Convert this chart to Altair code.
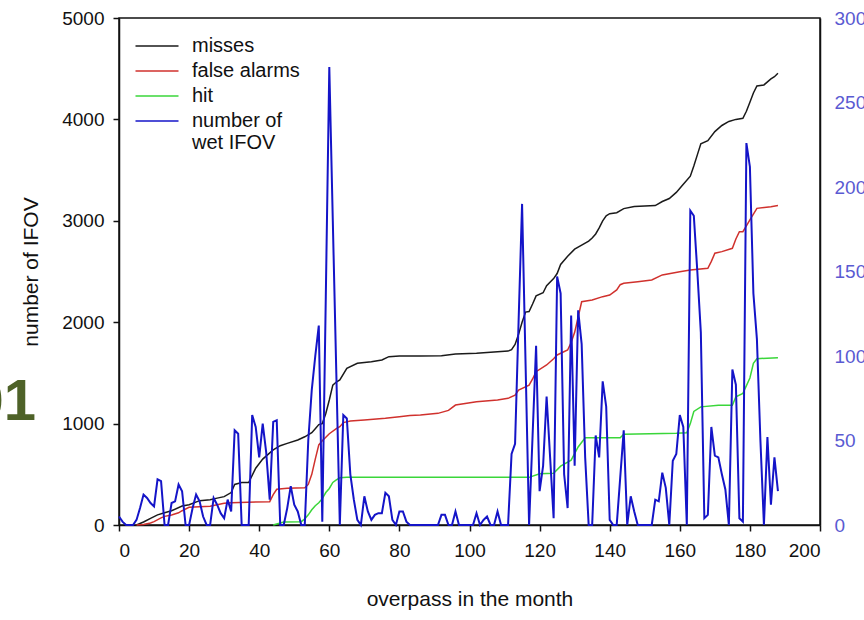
import altair as alt
import pandas as pd

# ---------------- data ----------------
series_names = ["misses", "false alarms", "hit", "number of wet IFOV"]
series_colors = ["#1a1a1a", "#d0312d", "#3ad63a", "#1414c8"]

miss_x = [5, 7, 9, 11, 13, 15, 18, 20, 23, 26, 28, 30, 32, 33, 35, 37, 39, 41, 44, 46, 48, 51, 53, 55, 56, 57, 58,
          59, 60, 61, 62, 63, 65, 68, 72, 75, 77, 80, 86, 92, 96, 102, 108, 111, 112, 113, 114, 115, 116, 117, 118,
          119, 121, 122, 124, 125, 126, 128, 130, 132, 134, 135, 136, 137, 138, 139, 140, 142, 144, 147, 153, 155,
          157, 159, 161, 163, 164, 165, 166, 168, 170, 172, 174, 176, 178, 179, 180, 181, 182, 184, 186, 187, 188]
miss_y = [0, 30, 66, 100, 120, 140, 187, 200, 240, 250, 265, 280, 320, 400, 418, 418, 560, 650, 740, 782, 805, 838,
          870, 910, 950, 990, 1000, 1100, 1233, 1380, 1410, 1430, 1545, 1595, 1611, 1627, 1660, 1667, 1667, 1670,
          1686, 1693, 1709, 1715, 1730, 1780, 1880, 2000, 2100, 2105, 2180, 2260, 2290, 2360, 2430, 2480, 2570,
          2650, 2720, 2760, 2800, 2830, 2870, 2930, 3000, 3050, 3070, 3080, 3120, 3140, 3150, 3190, 3220, 3280,
          3360, 3440, 3540, 3650, 3760, 3790, 3880, 3940, 3980, 4000, 4011, 4080, 4170, 4260, 4330, 4340, 4400,
          4421, 4455]

fa_x = [5, 7, 9, 10, 12, 13, 15, 17, 18, 20, 23, 26, 28, 30, 32, 43, 44, 45, 48, 53, 54, 55, 56, 57, 58, 60, 62,
        63, 64, 66, 70, 76, 80, 83, 86, 91, 94, 96, 102, 108, 111, 113, 114, 117, 118, 119, 122, 124, 125, 128,
        129, 130, 131, 132, 135, 138, 140, 142, 143, 144, 148, 152, 155, 160, 163, 168, 169, 170, 172, 175, 176,
        177, 178, 179, 180, 182, 186, 188]
fa_y = [0, 5, 20, 33, 70, 85, 99, 120, 141, 174, 181, 185, 200, 215, 220, 230, 300, 352, 362, 368, 400, 500, 650,
        790, 830, 900, 950, 970, 1010, 1025, 1035, 1052, 1068, 1080, 1085, 1101, 1130, 1183, 1216, 1233, 1249,
        1280, 1331, 1380, 1440, 1512, 1578, 1640, 1677, 1726, 1800, 1900, 2050, 2202, 2219, 2252, 2268, 2318,
        2370, 2384, 2400, 2416, 2466, 2498, 2515, 2531, 2600, 2680, 2696, 2729, 2820, 2893, 2893, 2950, 3008,
        3123, 3139, 3150]

hit_x = [44, 45, 47, 52, 53, 54, 55, 56, 57, 58, 59, 60, 61, 62, 63, 65, 111, 117, 120, 124, 126, 129, 131, 133,
         143, 144, 159, 162, 163, 164, 166, 171, 175, 176, 178, 180, 181, 182, 188]
hit_y = [0, 10, 30, 33, 60, 100, 150, 190, 220, 260, 320, 360, 420, 445, 465, 470, 470, 470, 505, 510, 580, 640,
         770, 860, 860, 895, 905, 910, 1000, 1120, 1165, 1180, 1180, 1265, 1298, 1450, 1594, 1640, 1650]

wet_values = [5, 2, 0, 0, 0, 3, 10, 18, 16, 13, 11, 27, 26, 0, 0, 13, 14, 24, 20, 0,
              0, 10, 18, 14, 5, 0, 0, 16, 12, 7, 4, 15, 8, 56, 54, 0, 0, 0, 65, 58,
              40, 60, 43, 15, 61, 62, 0, 0, 10, 23, 12, 8, 0, 0, 50, 80, 100, 118, 2, 135,
              271, 180, 90, 0, 65, 63, 30, 15, 3, 0, 17, 8, 3, 6, 7, 7, 19, 17, 3, 0,
              8, 8, 2, 0, 0, 0, 0, 0, 0, 0, 0, 0, 6, 6, 0, 0, 8, 0, 0, 0,
              0, 0, 7, 0, 3, 5, 0, 0, 8, 0, 0, 0, 42, 48, 120, 190, 95, 0, 53, 106,
              20, 35, 76, 40, 4, 147, 137, 30, 10, 124, 35, 127, 107, 40, 0, 0, 53, 40, 85, 70,
              3, 0, 0, 28, 56, 0, 17, 8, 0, 0, 0, 0, 0, 15, 14, 31, 22, 0, 38, 42,
              65, 58, 0, 186, 183, 150, 114, 4, 6, 58, 41, 40, 30, 21, 0, 92, 83, 4, 2, 226,
              212, 137, 110, 50, 0, 52, 12, 40, 20]
wet_x = list(range(len(wet_values)))

x_ticks = list(range(0, 201, 20))
left_ticks = [0, 1000, 2000, 3000, 4000, 5000]
right_ticks = [0, 50, 100, 150, 200, 250, 300]

# ---------------- tables ----------------
cum = pd.concat([
    pd.DataFrame({"x": miss_x, "v": miss_y, "series": "misses"}),
    pd.DataFrame({"x": fa_x, "v": fa_y, "series": "false alarms"}),
    pd.DataFrame({"x": hit_x, "v": hit_y, "series": "hit"}),
], ignore_index=True)
wet = pd.DataFrame({"x": wet_x, "v": wet_values, "series": "number of wet IFOV"})

FONT = "Liberation Sans"

xenc = alt.X("x:Q", scale=alt.Scale(domain=[0, 200], nice=False),
             axis=alt.Axis(values=x_ticks, title="overpass in the month", format="d",
                           tickSize=6, labelPadding=10, titlePadding=28))

color = alt.Color("series:N",
                  scale=alt.Scale(domain=series_names, range=series_colors),
                  sort=series_names,
                  legend=alt.Legend(
                      title=None, orient="none", legendX=27, legendY=17,
                      symbolType="M-2.15,0H2.15", symbolSize=400, symbolStrokeWidth=1.6,
                      labelFontSize=20, labelFont=FONT, labelColor="#111111",
                      labelOffset=24, rowPadding=4,
                      labelExpr="datum.label == 'number of wet IFOV' ? ['number of', 'wet IFOV'] : datum.label",
                  ))

cum_layer = alt.Chart(cum).mark_line(strokeWidth=1.5).encode(
    x=xenc,
    y=alt.Y("v:Q", scale=alt.Scale(domain=[0, 5000], nice=False),
            axis=alt.Axis(values=left_ticks, title="number of IFOV", format="d", orient="left",
                          tickSize=6, labelPadding=9, titlePadding=20)),
    color=color,
    detail="series:N",
    order="x:Q",
)

wet_layer = alt.Chart(wet).mark_line(strokeWidth=2).encode(
    x=xenc,
    y=alt.Y("v:Q", scale=alt.Scale(domain=[0, 300], nice=False),
            axis=alt.Axis(values=right_ticks, title="", format="d", orient="right",
                          ticks=False, labelPadding=14, labelColor="#5a5ad2")),
    color=color,
)

badge = alt.Chart(pd.DataFrame({"t": ["01"]})).mark_text(
    font=FONT, fontSize=58, fontWeight="bold", color="#4e6228", align="right", baseline="alphabetic"
).encode(text="t:N", x=alt.value(-83), y=alt.value(402))

chart = alt.layer(cum_layer, wet_layer, badge).resolve_scale(y="independent").properties(
    width=701, height=507,
    autosize=alt.AutoSizeParams(type="none"),
    padding={"left": 119, "top": 18, "right": 44, "bottom": 95},
    background="white",
).configure(font=FONT).configure_view(stroke="#111111", strokeWidth=1.5).configure_axis(
    grid=False, domainColor="#111111", domainWidth=1.5, tickColor="#111111", tickWidth=1.5,
    labelFontSize=19, labelFont=FONT, labelColor="#111111",
    titleFontSize=21, titleFont=FONT, titleFontWeight="normal", titleColor="#111111",
)

chart.save("out.html", embed_options={"renderer": "svg", "actions": False})
